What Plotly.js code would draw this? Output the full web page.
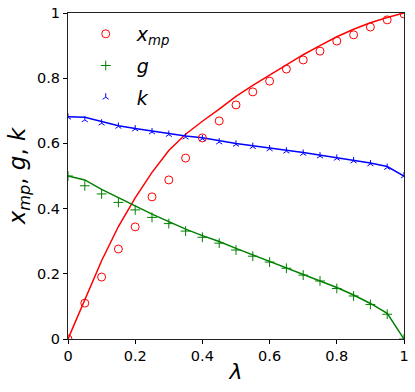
<!DOCTYPE html>
<html>
<head>
<meta charset="utf-8">
<script src="https://cdn.plot.ly/plotly-3.0.1.min.js"></script>
<style>html,body{margin:0;padding:0;background:#fff;}#chart{width:415px;height:392px;}</style>
</head>
<body>
<div id="chart"></div>
<script>
const lambda = [0,0.05,0.1,0.15,0.2,0.25,0.3,0.35,0.4,0.45,0.5,0.55,0.6,0.65,0.7,0.75,0.8,0.85,0.9,0.95,1];
const xmpLine = [0,0.12,0.24,0.345,0.433,0.511,0.578,0.628,0.668,0.705,0.744,0.778,0.81,0.842,0.872,0.9,0.927,0.95,0.97,0.986,1.0];
const xmpPts = [0,0.110,0.190,0.276,0.344,0.436,0.488,0.555,0.617,0.669,0.718,0.758,0.791,0.828,0.856,0.883,0.914,0.933,0.957,0.979,0.997];
const gLine = [0.5,0.488,0.459,0.433,0.409,0.383,0.36,0.337,0.317,0.299,0.278,0.258,0.239,0.22,0.2,0.18,0.158,0.135,0.109,0.079,0.0];
const gPts = [0.5,0.47,0.445,0.419,0.396,0.373,0.354,0.331,0.312,0.294,0.273,0.254,0.236,0.217,0.196,0.178,0.155,0.132,0.106,0.076,0.0];
const kLine = [0.682,0.68,0.667,0.654,0.646,0.638,0.631,0.623,0.617,0.608,0.6,0.593,0.587,0.579,0.572,0.564,0.557,0.549,0.54,0.529,0.5];
const kPts = [0.68,0.672,0.662,0.652,0.644,0.635,0.627,0.619,0.614,0.604,0.597,0.59,0.583,0.576,0.569,0.561,0.554,0.546,0.537,0.526,0.5];
const tickVals = [0,0.2,0.4,0.6,0.8,1];
const tickText = ['0','0.2','0.4','0.6','0.8','1'];

const traces = [
  {x: lambda, y: xmpLine, mode: 'lines', line: {color: 'red', width: 1.5}, showlegend: false},
  {x: lambda, y: gLine, mode: 'lines', line: {color: 'green', width: 1.5}, showlegend: false},
  {x: lambda, y: kLine, mode: 'lines', line: {color: 'blue', width: 1.5}, showlegend: false},
  {x: lambda, y: xmpPts, mode: 'markers', name: '<i>x</i><sub><i>mp</i></sub>', legendgroup: 'a',
   marker: {symbol: 'circle-open', size: 8, color: 'red', line: {width: 1, color: 'red'}}},
  {x: lambda, y: gPts, mode: 'markers', name: '<i>g</i>', legendgroup: 'b',
   marker: {symbol: 'cross-thin-open', size: 7, color: 'green', line: {width: 1, color: 'green'}}},
  {x: lambda, y: kPts, mode: 'markers', name: '<i>k</i>', legendgroup: 'c',
   marker: {symbol: 'y-up-open', size: 5, color: 'blue', line: {width: 1, color: 'blue'}}}
];

const axisCommon = {
  range: [0, 1], tickvals: tickVals, ticktext: tickText,
  ticks: 'outside', ticklen: 4, tickwidth: 1, tickcolor: '#000',
  showline: true, linecolor: '#222', linewidth: 1, mirror: true,
  showgrid: false, zeroline: false,
  tickfont: {family: 'DejaVu Sans', size: 14.5, color: '#000'}
};

const layout = {
  width: 415, height: 392,
  margin: {l: 68, r: 11, t: 13, b: 53},
  paper_bgcolor: '#fff', plot_bgcolor: '#fff',
  font: {family: 'DejaVu Sans', color: '#000'},
  xaxis: Object.assign({}, axisCommon, {
    title: {text: '<i>λ</i>', font: {family: 'DejaVu Sans', size: 22, color: '#000'}, standoff: 0}
  }),
  yaxis: Object.assign({}, axisCommon, {
    title: {text: '<i>x</i><sub><i>mp</i></sub>, <i>g</i>, <i>k</i>', font: {family: 'DejaVu Sans', size: 23, color: '#000'}, standoff: 4}
  }),
  legend: {x: 0.02, y: 0.994, xanchor: 'left', yanchor: 'top', bgcolor: 'rgba(0,0,0,0)',
           font: {family: 'DejaVu Sans', size: 19, color: '#000'}, itemwidth: 52, tracegroupgap: 4}
};

Plotly.newPlot('chart', traces, layout, {displayModeBar: false, staticPlot: true});
</script>
</body>
</html>
